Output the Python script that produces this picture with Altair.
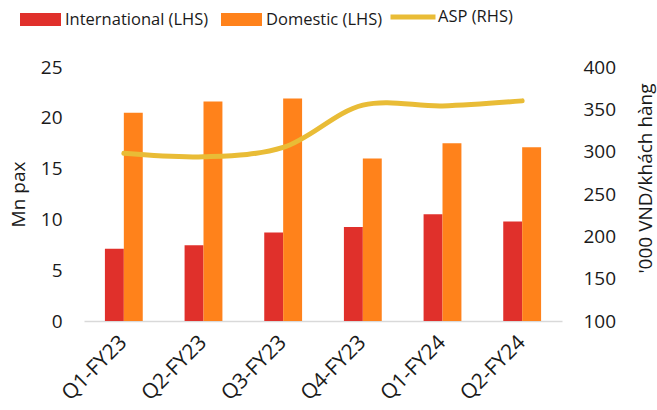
import altair as alt
import pandas as pd

quarters = ["Q1-FY23", "Q2-FY23", "Q3-FY23", "Q4-FY23", "Q1-FY24", "Q2-FY24"]
international = [7.1, 7.45, 8.7, 9.25, 10.5, 9.8]
domestic = [20.5, 21.6, 21.9, 16.0, 17.5, 17.1]
asp = [298, 294, 305, 355, 354, 360]

series_names = ["International (LHS)", "Domestic (LHS)"]
line_name = "ASP (RHS)"
left_ticks = [0, 5, 10, 15, 20, 25]
right_ticks = [100, 150, 200, 250, 300, 350, 400]

RED = "#E0302B"
ORANGE = "#FF821B"
YELLOW = "#E9BC36"
FONT = "Open Sans"
TEXT = "#1a1a1a"

bars_df = pd.DataFrame(
    [{"quarter": q, "series": series_names[0], "value": v} for q, v in zip(quarters, international)]
    + [{"quarter": q, "series": series_names[1], "value": v} for q, v in zip(quarters, domestic)]
)
line_df = pd.DataFrame({"quarter": quarters, "asp": asp, "name": [line_name] * len(quarters)})

x_enc = alt.X(
    "quarter:N",
    sort=quarters,
    scale=alt.Scale(paddingInner=0.525, paddingOuter=0.2625),
    axis=alt.Axis(
        title=None, labelAngle=-45, labelAlign="right", labelBaseline="middle",
        labelPadding=18, ticks=False, domainColor="#D9D9D9", domainWidth=1.5,
        labelFontSize=21, labelFont=FONT, labelColor=TEXT, grid=False,
    ),
)

bars = alt.Chart(bars_df).mark_bar().encode(
    x=x_enc,
    xOffset=alt.XOffset("series:N", sort=series_names, scale=alt.Scale(paddingInner=0, paddingOuter=0)),
    y=alt.Y(
        "value:Q",
        scale=alt.Scale(domain=[0, 25], nice=False),
        axis=alt.Axis(
            title="Mn pax", values=left_ticks, ticks=False, domain=False, grid=False,
            labelPadding=22, labelFontSize=19, labelFont=FONT, labelColor=TEXT,
            titleFontSize=19, titleFont=FONT, titleColor=TEXT, titleFontWeight="normal",
            titleAngle=-90, titleX=-66, titleY=127, titleAlign="center", titleBaseline="middle",
        ),
    ),
    fill=alt.Fill(
        "series:N",
        sort=series_names,
        scale=alt.Scale(domain=series_names, range=[RED, ORANGE]),
        legend=alt.Legend(
            title=None, orient="none", legendX=-64, legendY=-68, direction="horizontal",
            symbolType="M-1,-0.32L1,-0.32L1,0.32L-1,0.32Z", symbolSize=1681,
            symbolStrokeWidth=0, symbolOpacity=1, labelFontSize=16.5, labelFont=FONT,
            labelColor=TEXT, labelOffset=4, columnPadding=12, padding=0, labelLimit=400,
        ),
    ),
)

line = alt.Chart(line_df).mark_line(
    strokeWidth=5, strokeCap="round", interpolate="catmull-rom"
).encode(
    x=alt.X("quarter:N", sort=quarters),
    y=alt.Y(
        "asp:Q",
        scale=alt.Scale(domain=[100, 400], nice=False, zero=False),
        axis=alt.Axis(
            title="'000 VND/khách hàng", orient="right", values=right_ticks, ticks=False,
            domain=False, grid=False, labelPadding=21, labelFontSize=19, labelFont=FONT,
            labelColor=TEXT, titleFontSize=19, titleFont=FONT, titleColor=TEXT,
            titleFontWeight="normal", titleAngle=-90, titleX=83, titleY=111,
            titleAlign="center", titleBaseline="middle",
        ),
    ),
    stroke=alt.Stroke(
        "name:N",
        scale=alt.Scale(domain=[line_name], range=[YELLOW]),
        legend=alt.Legend(
            title=None, orient="none", legendX=304, legendY=-75, direction="horizontal",
            symbolType="stroke", symbolSize=2025, symbolStrokeWidth=5,
            labelFontSize=16.5, labelFont=FONT, labelColor=TEXT, labelOffset=0, padding=0,
            labelLimit=400,
        ),
    ),
)

chart = (
    alt.layer(bars, line)
    .resolve_scale(y="independent", fill="independent", stroke="independent")
    .properties(
        width=478, height=254,
        autosize=alt.AutoSizeParams(type="none"),
        padding={"left": 84, "top": 67, "right": 95, "bottom": 89},
        background="white",
    )
    .configure_view(stroke=None)
)

chart.save("out.html", embed_options={"renderer": "svg", "actions": False})
